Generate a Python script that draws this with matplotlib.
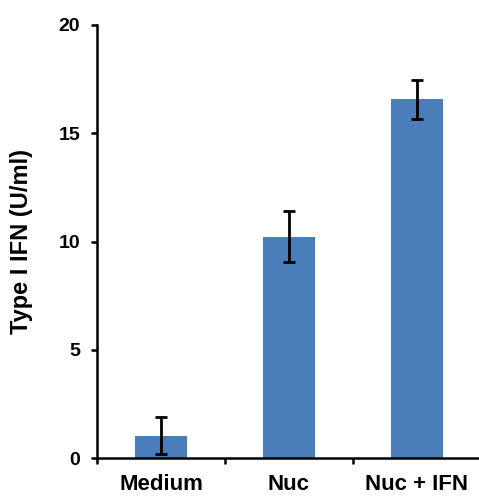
import numpy as np
from matplotlib import pyplot as plt

plt.rcParams['font.family'] = ['Liberation Sans', 'DejaVu Sans']
plt.rcParams['font.weight'] = 'bold'

groups = ['Medium', 'Nuc', 'Nuc + IFN']
means = [1.05, 10.23, 16.57]
errors = [0.85, 1.18, 0.9]

fig = plt.figure(figsize=(4.79, 4.96), dpi=100)
ax = fig.add_axes([0.2025, 0.076, 0.7975, 0.8736])

x = np.arange(len(groups))
ax.bar(x, means, width=0.4, color='#4a7ebb', zorder=2)
ax.errorbar(x, means, yerr=errors, fmt='none', ecolor='black',
            elinewidth=2, capsize=4, capthick=2, zorder=3)

ax.set_xlim(-0.5, -0.5 + 382 / 128)
ax.set_ylim(0, 20)
ax.set_yticks([0, 5, 10, 15, 20])
ax.set_xticks(x)
ax.set_xticklabels(groups)
ax.set_xticks([-0.5, 0.5, 1.5], minor=True)

ax.spines['top'].set_visible(False)
ax.spines['right'].set_visible(False)
for s in ['left', 'bottom']:
    ax.spines[s].set_linewidth(1.8)

ax.tick_params(axis='y', direction='out', length=4, width=1.8, labelsize=14, pad=8)
ax.tick_params(axis='x', which='major', length=0, labelsize=16, pad=11)
ax.tick_params(axis='x', which='minor', direction='out', length=4, width=1.8)

ax.set_ylabel('Type I IFN (U/ml)', fontsize=17, fontweight='bold')
ax.yaxis.set_label_coords(-0.168, 0.5)

fig.savefig('out.png', dpi=100)
